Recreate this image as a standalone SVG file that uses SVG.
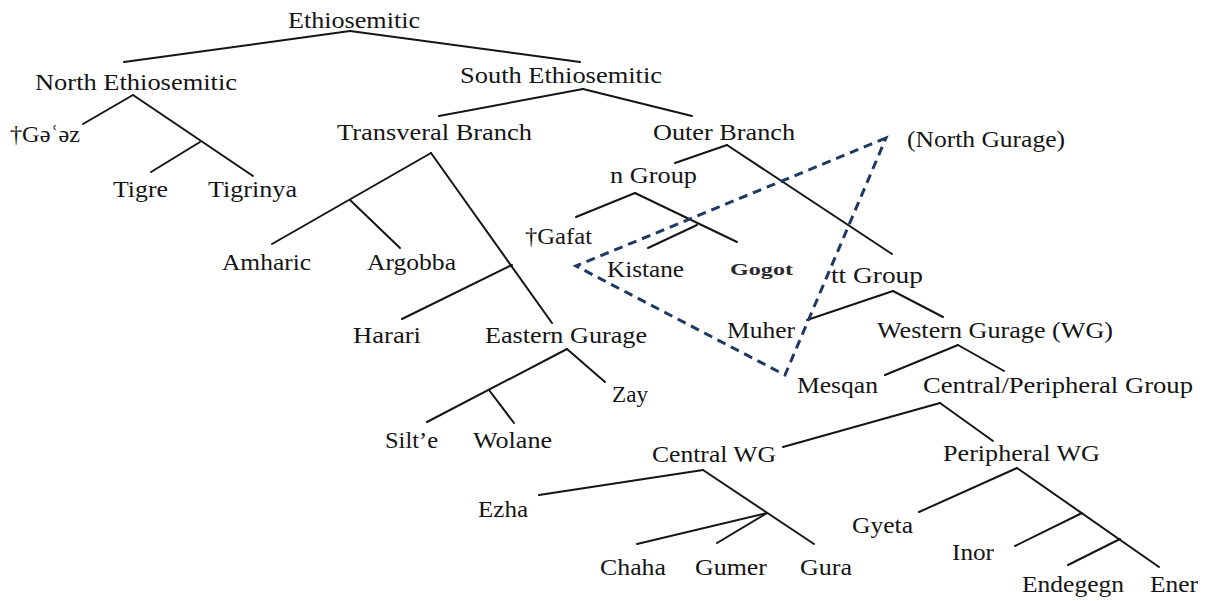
<svg xmlns="http://www.w3.org/2000/svg" width="1206" height="601" viewBox="0 0 1206 601">
  <style>
    .lbl { font-family: "Liberation Serif", "DejaVu Serif", serif; font-size: 24px; fill: #151515; }
    .small { font-family: "Liberation Serif", "DejaVu Serif", serif; font-size: 17px; font-weight: bold; fill: #2a2a2a; }
    .edge { stroke: #151515; stroke-width: 2; fill: none; stroke-linecap: round; }
    .group-outline { stroke: #1f3864; stroke-width: 3; fill: none; stroke-dasharray: 9 6; }
  </style>
  <rect width="1206" height="601" fill="#ffffff"/>

  <!-- tree branches -->
  <g id="connectors" class="edge">
    <line x1="350" y1="31" x2="124" y2="62"/>
    <line x1="350" y1="31" x2="580" y2="62"/>
    <line x1="133" y1="95" x2="83" y2="124"/>
    <line x1="133" y1="95" x2="253" y2="176"/>
    <line x1="200" y1="142" x2="151" y2="172"/>
    <line x1="583" y1="89" x2="439" y2="116"/>
    <line x1="583" y1="89" x2="692" y2="116"/>
    <line x1="431" y1="153" x2="272" y2="244"/>
    <line x1="431" y1="153" x2="552" y2="323"/>
    <line x1="350" y1="200" x2="400" y2="248"/>
    <line x1="512" y1="265" x2="402" y2="319"/>
    <line x1="727" y1="145" x2="675" y2="163"/>
    <line x1="727" y1="145" x2="892" y2="254"/>
    <line x1="635" y1="193" x2="576" y2="217"/>
    <line x1="635" y1="193" x2="737" y2="242"/>
    <line x1="697" y1="225" x2="648" y2="248"/>
    <line x1="893" y1="291" x2="807" y2="320"/>
    <line x1="893" y1="291" x2="943" y2="317"/>
    <line x1="958" y1="345" x2="885" y2="375"/>
    <line x1="958" y1="345" x2="1004" y2="371"/>
    <line x1="567" y1="349" x2="427" y2="422"/>
    <line x1="567" y1="349" x2="605" y2="382"/>
    <line x1="489" y1="390" x2="514" y2="423"/>
    <line x1="940" y1="403" x2="783" y2="447"/>
    <line x1="940" y1="403" x2="993" y2="441"/>
    <line x1="703" y1="470" x2="539" y2="495"/>
    <line x1="703" y1="470" x2="814" y2="544"/>
    <line x1="767" y1="513" x2="637" y2="544"/>
    <line x1="767" y1="513" x2="717" y2="543"/>
    <line x1="1017" y1="468" x2="919" y2="512"/>
    <line x1="1017" y1="468" x2="1159" y2="567"/>
    <line x1="1082" y1="513" x2="1015" y2="546"/>
    <line x1="1120" y1="539" x2="1068" y2="565"/>
  </g>

  <!-- dashed outline around the North Gurage cluster -->
  <g id="north-gurage-outline">
    <polygon class="group-outline" points="886,138 576,266 785,375"/>
  </g>

  <g id="ethiosemitic"><text class="lbl" x="288" y="28" textLength="132" lengthAdjust="spacingAndGlyphs">Ethiosemitic</text></g>
  <g id="north-ethiosemitic"><text class="lbl" x="35" y="90" textLength="202" lengthAdjust="spacingAndGlyphs">North Ethiosemitic</text></g>
  <g id="south-ethiosemitic"><text class="lbl" x="460" y="83" textLength="202" lengthAdjust="spacingAndGlyphs">South Ethiosemitic</text></g>
  <g id="geez"><text class="lbl" x="10" y="142" textLength="70" lengthAdjust="spacingAndGlyphs">†Gəʿəz</text></g>
  <g id="tigre"><text class="lbl" x="113" y="197" textLength="55" lengthAdjust="spacingAndGlyphs">Tigre</text></g>
  <g id="tigrinya"><text class="lbl" x="208" y="197" textLength="89" lengthAdjust="spacingAndGlyphs">Tigrinya</text></g>
  <g id="transversal-branch"><text class="lbl" x="337" y="140" textLength="195" lengthAdjust="spacingAndGlyphs">Transveral Branch</text></g>
  <g id="outer-branch"><text class="lbl" x="653" y="140" textLength="142" lengthAdjust="spacingAndGlyphs">Outer Branch</text></g>
  <g id="north-gurage"><text class="lbl" x="907" y="147" textLength="158" lengthAdjust="spacingAndGlyphs">(North Gurage)</text></g>
  <g id="n-group"><text class="lbl" x="610" y="183" textLength="87" lengthAdjust="spacingAndGlyphs">n Group</text></g>
  <g id="amharic"><text class="lbl" x="222" y="270" textLength="89" lengthAdjust="spacingAndGlyphs">Amharic</text></g>
  <g id="argobba"><text class="lbl" x="367" y="270" textLength="89" lengthAdjust="spacingAndGlyphs">Argobba</text></g>
  <g id="gafat"><text class="lbl" x="525" y="244" textLength="67" lengthAdjust="spacingAndGlyphs">†Gafat</text></g>
  <g id="kistane"><text class="lbl" x="607" y="277" textLength="77" lengthAdjust="spacingAndGlyphs">Kistane</text></g>
  <g id="gogot"><text class="small" x="730" y="275" textLength="63" lengthAdjust="spacingAndGlyphs">Gogot</text></g>
  <g id="tt-group"><text class="lbl" x="831" y="283" textLength="92" lengthAdjust="spacingAndGlyphs">tt Group</text></g>
  <g id="harari"><text class="lbl" x="353" y="343" textLength="68" lengthAdjust="spacingAndGlyphs">Harari</text></g>
  <g id="eastern-gurage"><text class="lbl" x="485" y="343" textLength="162" lengthAdjust="spacingAndGlyphs">Eastern Gurage</text></g>
  <g id="muher"><text class="lbl" x="727" y="338" textLength="68" lengthAdjust="spacingAndGlyphs">Muher</text></g>
  <g id="western-gurage"><text class="lbl" x="877" y="338" textLength="236" lengthAdjust="spacingAndGlyphs">Western Gurage (WG)</text></g>
  <g id="zay"><text class="lbl" x="612" y="402" textLength="36" lengthAdjust="spacingAndGlyphs">Zay</text></g>
  <g id="mesqan"><text class="lbl" x="797" y="393" textLength="81" lengthAdjust="spacingAndGlyphs">Mesqan</text></g>
  <g id="central-peripheral-group"><text class="lbl" x="923" y="393" textLength="270" lengthAdjust="spacingAndGlyphs">Central/Peripheral Group</text></g>
  <g id="silte"><text class="lbl" x="385" y="448" textLength="53" lengthAdjust="spacingAndGlyphs">Silt’e</text></g>
  <g id="wolane"><text class="lbl" x="473" y="448" textLength="79" lengthAdjust="spacingAndGlyphs">Wolane</text></g>
  <g id="central-wg"><text class="lbl" x="652" y="462" textLength="124" lengthAdjust="spacingAndGlyphs">Central WG</text></g>
  <g id="peripheral-wg"><text class="lbl" x="943" y="461" textLength="157" lengthAdjust="spacingAndGlyphs">Peripheral WG</text></g>
  <g id="ezha"><text class="lbl" x="478" y="517" textLength="50" lengthAdjust="spacingAndGlyphs">Ezha</text></g>
  <g id="gyeta"><text class="lbl" x="852" y="533" textLength="61" lengthAdjust="spacingAndGlyphs">Gyeta</text></g>
  <g id="inor"><text class="lbl" x="952" y="560" textLength="42" lengthAdjust="spacingAndGlyphs">Inor</text></g>
  <g id="chaha"><text class="lbl" x="600" y="575" textLength="66" lengthAdjust="spacingAndGlyphs">Chaha</text></g>
  <g id="gumer"><text class="lbl" x="695" y="575" textLength="72" lengthAdjust="spacingAndGlyphs">Gumer</text></g>
  <g id="gura"><text class="lbl" x="800" y="575" textLength="52" lengthAdjust="spacingAndGlyphs">Gura</text></g>
  <g id="endegegn"><text class="lbl" x="1022" y="592" textLength="102" lengthAdjust="spacingAndGlyphs">Endegegn</text></g>
  <g id="ener"><text class="lbl" x="1150" y="592" textLength="48" lengthAdjust="spacingAndGlyphs">Ener</text></g>
</svg>
